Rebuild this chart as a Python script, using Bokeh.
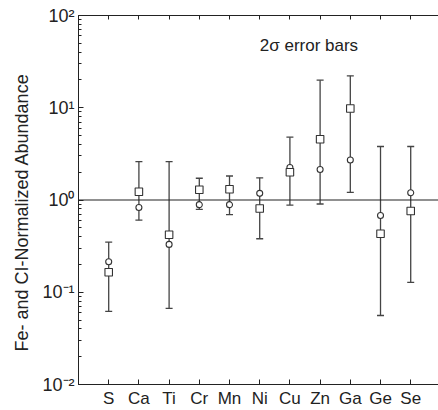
from bokeh.plotting import figure
from bokeh.models import (ColumnDataSource, Whisker, TeeHead, Span, Label, Title,
                          LinearAxis, LogAxis, FixedTicker, LogTicker, Range1d)
from bokeh.embed import file_html
from bokeh.resources import INLINE

elements = ["S", "Ca", "Ti", "Cr", "Mn", "Ni", "Cu", "Zn", "Ga", "Ge", "Se"]
square_vals = [0.165, 1.23, 0.42, 1.29, 1.31, 0.81, 2.0, 4.56, 9.8, 0.43, 0.76]
circle_vals = [0.214, 0.83, 0.33, 0.89, 0.89, 1.18, 2.25, 2.14, 2.71, 0.68, 1.2]
err_upper = [0.35, 2.6, 2.6, 1.72, 1.82, 1.74, 4.8, 19.9, 22.2, 3.8, 3.8]
err_lower = [0.062, 0.605, 0.067, 0.79, 0.695, 0.38, 0.88, 0.905, 1.21, 0.056, 0.128]
y_ticks = [0.01, 0.1, 1, 10, 100]
y_tick_labels = ["10⁻²", "10⁻¹", "10⁰", "10¹", "10²"]

xpos = list(range(1, len(elements) + 1))
FONT = "Liberation Sans"
INK = "#222222"

src = ColumnDataSource(dict(x=xpos, sq=square_vals, ci=circle_vals,
                            up=err_upper, lo=err_lower))

p = figure(width=438, height=410, y_axis_type="log",
           x_range=Range1d(0, 11.92), y_range=Range1d(0.01, 100),
           output_backend="svg", toolbar_location=None,
           x_axis_location=None, y_axis_location=None,
           min_border_left=78, min_border_right=0, min_border_top=15,
           min_border_bottom=24)
p.outline_line_color = None
p.grid.visible = False
p.background_fill_color = "white"
p.border_fill_color = "white"

# left log axis
ly = LogAxis(ticker=LogTicker(desired_num_ticks=5, num_minor_ticks=10))
ly.major_label_overrides = {t: s for t, s in zip(y_ticks, y_tick_labels)}
ly.major_label_text_font = FONT
ly.major_label_text_font_size = "18px"
ly.major_label_text_color = INK
ly.major_label_standoff = 4
ly.major_tick_in = 5
ly.major_tick_out = 0
ly.minor_tick_in = 3
ly.minor_tick_out = 0
ly.axis_line_color = INK
ly.major_tick_line_color = INK
ly.minor_tick_line_color = INK
p.add_layout(ly, "left")

# y-axis title, starting a little above the frame bottom as in the reference
ytitle = Title(text="Fe- and CI-Normalized Abundance", align="left",
               offset=33, standoff=16, text_font=FONT, text_font_size="18px",
               text_font_style="normal", text_color=INK)
p.add_layout(ytitle, "left")

# bottom category axis
bx = LinearAxis(ticker=FixedTicker(ticks=xpos, minor_ticks=[]))
bx.major_label_overrides = {i: e for i, e in zip(xpos, elements)}
bx.major_label_text_font = FONT
bx.major_label_text_font_size = "17px"
bx.major_label_text_color = INK
bx.major_label_standoff = 4
bx.major_tick_in = 5
bx.major_tick_out = 0
bx.minor_tick_in = 0
bx.minor_tick_out = 0
bx.axis_line_color = INK
bx.major_tick_line_color = INK
p.add_layout(bx, "below")

# top axis, ticks only
tx = LinearAxis(ticker=FixedTicker(ticks=xpos, minor_ticks=[]))
tx.major_label_overrides = {i: "" for i in xpos}
tx.major_label_text_font_size = "4px"
tx.major_label_standoff = 0
tx.major_tick_in = 4
tx.major_tick_out = 0
tx.minor_tick_in = 0
tx.minor_tick_out = 0
tx.axis_line_color = INK
tx.major_tick_line_color = INK
p.add_layout(tx, "above")

p.add_layout(Span(location=1, dimension="width", line_color=INK, line_width=1.2))

w = Whisker(base="x", upper="up", lower="lo", source=src, dimension="height",
            line_color="#444444", line_width=1.3,
            upper_head=TeeHead(size=7, line_color="#444444", line_width=1.3),
            lower_head=TeeHead(size=7, line_color="#444444", line_width=1.3))
p.add_layout(w)

p.scatter("x", "ci", source=src, marker="circle", size=6, fill_color="white",
          line_color="#333333", line_width=1.1)
p.scatter("x", "sq", source=src, marker="square", size=7.5, fill_color="white",
          line_color="#333333", line_width=1.1)

p.add_layout(Label(x=7.63, y=47.5, text="2σ error bars", text_font=FONT,
                   text_font_size="17px", text_color=INK,
                   text_baseline="middle", text_align="center"))

open("out.html", "w").write(file_html(p, INLINE))
